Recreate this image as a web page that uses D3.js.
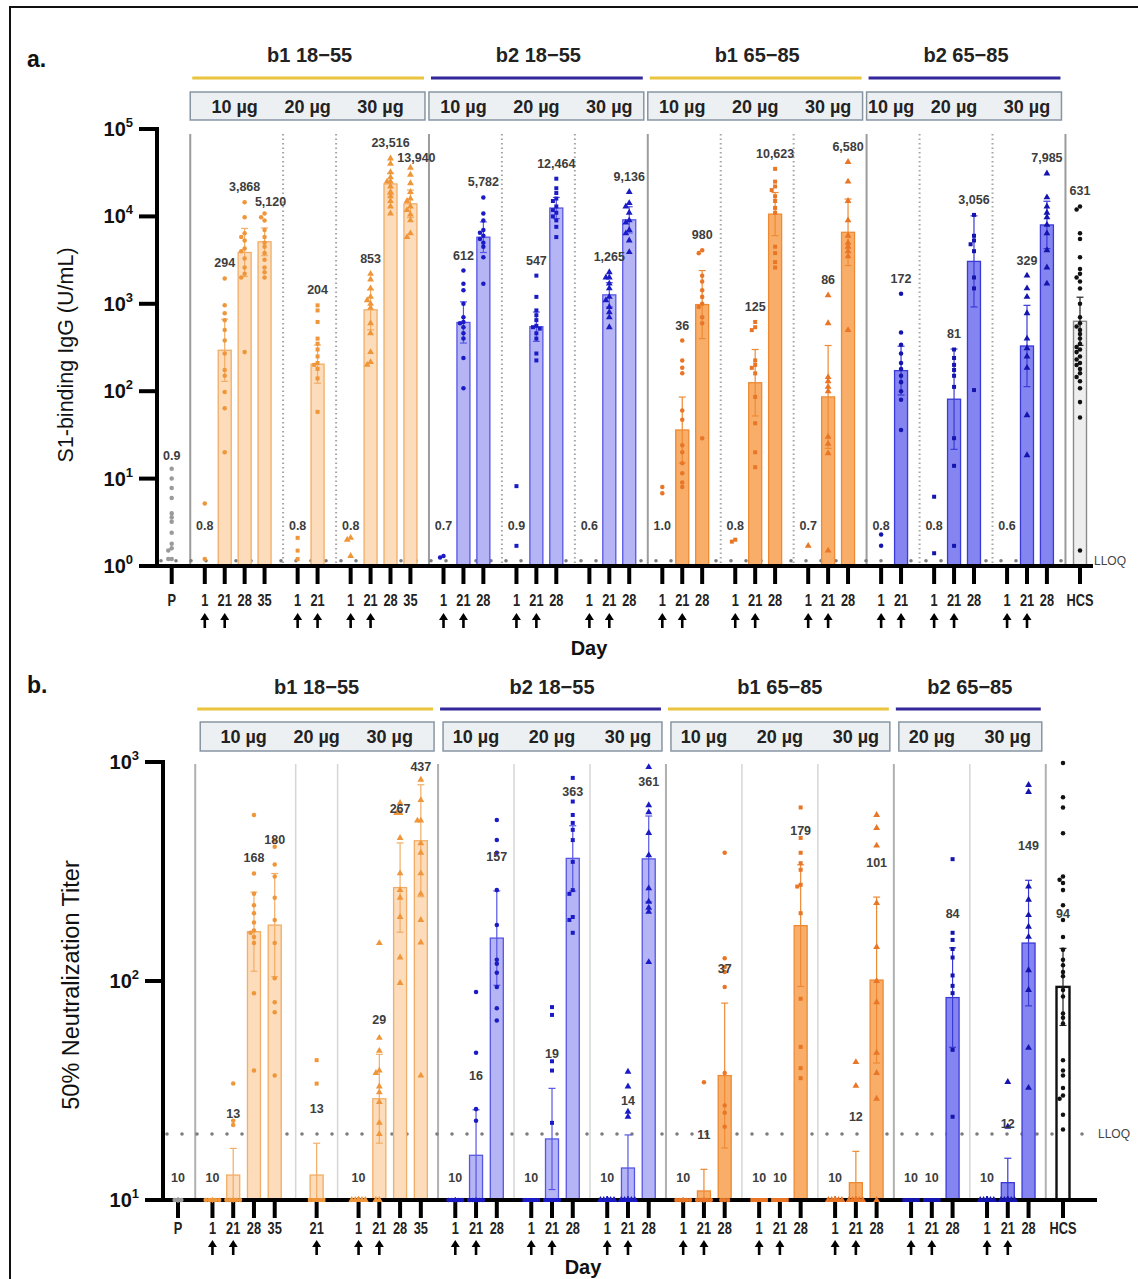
<!DOCTYPE html>
<html>
<head>
<meta charset="utf-8">
<script src="https://cdn.jsdelivr.net/npm/d3@7"></script>
<style>
  body { margin: 0; background: #fff; }
  svg { display: block; }
</style>
</head>
<body>
<script>
// ---------------- data ----------------
const cohortNames = ["b1 18−55", "b2 18−55", "b1 65−85", "b2 65−85"];
const doseLabels = ["10 µg", "20 µg", "30 µg"];

// Panel a: S1-binding IgG (U/mL); one entry per column group (P, doses per cohort, HCS)
const iggGroupCohort = [-1, 0, 0, 0, 1, 1, 1, 2, 2, 2, 3, 3, 3, -1];
const iggGroupDose   = [-1, 0, 1, 2, 0, 1, 2, 0, 1, 2, 0, 1, 2, -1];
const iggDays = [
  ["P"],
  ["1", "21", "28", "35"], ["1", "21"], ["1", "21", "28", "35"],
  ["1", "21", "28"], ["1", "21", "28"], ["1", "21", "28"],
  ["1", "21", "28"], ["1", "21", "28"], ["1", "21", "28"],
  ["1", "21"], ["1", "21", "28"], ["1", "21", "28"],
  ["HCS"]
];
const iggGMT = [
  [0.9],
  [0.8, 294, 3868, 5120], [0.8, 204], [0.8, 853, 23516, 13940],
  [0.7, 612, 5782], [0.9, 547, 12464], [0.6, 1265, 9136],
  [1.0, 36, 980], [0.8, 125, 10623], [0.7, 86, 6580],
  [0.8, 172], [0.8, 81, 3056], [0.6, 329, 7985],
  [631]
];
const iggPoints = [
  [[13, 10, 7.8, 6, 4, 3.6, 3.2, 2.4, 1.8, 1.6, 1.5, 1.2, 1.2]],
  [[5.2, 1.2],
   [1950, 960, 780, 650, 500, 380, 270, 175, 150, 98, 64, 20],
   [14500, 9800, 6400, 5800, 5300, 4300, 4000, 3300, 2600, 2200, 2000, 280],
   [10800, 9800, 9000, 7000, 5800, 5000, 4500, 3800, 3200, 2600, 2300, 2000]],
  [[2.1, 1.5, 1.2],
   [960, 840, 620, 400, 350, 300, 250, 210, 200, 180, 140, 58]],
  [[2.1, 2.0, 1.3],
   [2200, 1900, 1500, 1200, 1100, 1000, 900, 600, 460, 280, 215, 200],
   [46000, 40000, 32000, 28000, 25000, 25000, 22000, 19000, 17000, 15000, 13000, 10800],
   [36000, 30000, 24000, 19000, 16000, 15000, 13000, 11800, 10500, 9000, 6400, 5800]],
  [[1.3, 1.25],
   [2400, 1700, 1430, 1000, 700, 620, 600, 540, 460, 400, 240, 108],
   [16500, 10800, 9000, 7000, 6500, 6000, 5500, 5000, 4500, 3400, 1700]],
  [[8.2, 1.7],
   [2100, 1200, 840, 740, 650, 560, 540, 520, 460, 400, 270, 225],
   [27000, 21000, 18500, 16000, 15000, 13000, 11800, 11000, 10000, 9000, 7600, 5800]],
  [[],
   [2300, 2000, 2000, 1700, 1500, 1200, 1100, 920, 800, 700, 540],
   [19000, 14200, 13000, 11000, 9000, 8500, 7000, 6400, 5300, 3900]],
  [[8, 6.8],
   [380, 225, 185, 160, 60, 47, 24, 20, 15, 11.5, 9, 8],
   [4100, 3800, 2100, 1800, 1430, 1200, 1000, 920, 700, 600, 29]],
  [[2.0, 1.9],
   [620, 540, 500, 225, 200, 185, 160, 86, 43, 20, 13.5],
   [35000, 25000, 22000, 20000, 17000, 15000, 12500, 11000, 4500, 3800, 3000, 2600]],
  [[1.7],
   [1250, 600, 145, 130, 112, 100, 30, 25, 19.5, 1.5],
   [42000, 25000, 15000, 9000, 6000, 5000, 4500, 4000, 3500, 500]],
  [[2.3, 1.7],
   [1300, 470, 340, 270, 210, 180, 150, 127, 100, 80, 36]],
  [[6.2, 1.4],
   [300, 240, 200, 175, 150, 112, 29, 14, 1.7],
   [10400, 6000, 5300, 4800, 4000, 2000, 1500, 103]],
  [[],
   [2100, 1500, 1200, 780, 400, 310, 250, 185, 53, 18.5],
   [31000, 16500, 13000, 11000, 9800, 8000, 6400, 4100, 2600, 1700]],
  [[13000, 12000, 6400, 5500, 3400, 2500, 2200, 2000, 1800, 1500, 1000, 700, 600, 550, 500,
    450, 400, 350, 320, 300, 280, 250, 230, 210, 200, 180, 160, 145, 130, 108, 75, 50, 1.5]]
];

// Panel b: 50% neutralization titer
const ntGroupCohort = [-1, 0, 0, 0, 1, 1, 1, 2, 2, 2, 3, 3, -1];
const ntGroupDose   = [-1, 0, 1, 2, 0, 1, 2, 0, 1, 2, 1, 2, -1];
const ntDays = [
  ["P"],
  ["1", "21", "28", "35"], ["21"], ["1", "21", "28", "35"],
  ["1", "21", "28"], ["1", "21", "28"], ["1", "21", "28"],
  ["1", "21", "28"], ["1", "21", "28"], ["1", "21", "28"],
  ["1", "21", "28"], ["1", "21", "28"],
  ["HCS"]
];
const ntGMT = [
  [10],
  [10, 13, 168, 180], [13], [10, 29, 267, 437],
  [10, 16, 157], [10, 19, 363], [10, 14, 361],
  [10, 11, 37], [10, 10, 179], [10, 12, 101],
  [10, 10, 84], [10, 12, 149],
  [94]
];
const ntPoints = [
  [[10, 10, 10, 10, 10, 10, 10, 10, 10, 10, 10, 10]],
  [[10, 10, 10, 10, 10, 10, 10, 10, 10, 10, 10, 10],
   [34, 23, 22, 10, 10, 10, 10, 10, 10, 10, 10, 10],
   [573, 310, 250, 222, 204, 185, 170, 166, 159, 149, 88, 39],
   [440, 410, 340, 300, 240, 190, 149, 103, 80, 72, 37]],
  [[43.5, 34, 10, 10, 10, 10, 10, 10, 10, 10, 10, 10]],
  [[10, 10, 10, 10, 10, 10, 10, 10, 10, 10, 10, 10],
   [149, 55, 48, 39, 38, 33, 31, 28, 22.5, 20, 10, 10],
   [650, 585, 585, 450, 310, 260, 240, 196, 128, 98],
   [830, 670, 540, 540, 425, 385, 310, 250, 190, 150, 37]],
  [[10, 10, 10, 10, 10, 10, 10, 10, 10, 10, 10, 10],
   [89, 47, 26, 23, 10, 10, 10, 10, 10, 10, 10, 10],
   [543, 440, 385, 260, 180, 125, 120, 109, 94, 75, 66]],
  [[10, 10, 10, 10, 10, 10, 10, 10, 10, 10, 10, 10],
   [76, 70, 43, 39, 22.5, 10, 10, 10, 10, 10, 10, 10],
   [846, 660, 573, 527, 490, 440, 350, 260, 250, 196, 190, 166]],
  [[10, 10, 10, 10, 10, 10, 10, 10, 10, 10, 10, 10],
   [38.5, 33, 25.3, 24, 10, 10, 10, 10, 10, 10, 10, 10],
   [948, 635, 590, 474, 375, 265, 230, 216, 207, 122]],
  [[10, 10, 10, 10, 10, 10, 10, 10, 10, 10, 10, 10],
   [34.5, 10, 10, 10, 10, 10, 10, 10, 10, 10, 10, 10],
   [385, 127, 116, 110, 94, 38, 27, 25, 21.6, 10, 10, 10]],
  [[10, 10, 10, 10, 10, 10, 10, 10, 10, 10, 10, 10],
   [10, 10, 10, 10, 10, 10, 10, 10, 10, 10, 10, 10],
   [620, 450, 385, 345, 322, 275, 270, 204, 83, 50, 40, 36]],
  [[10, 10, 10, 10, 10, 10, 10, 10, 10, 10, 10, 10],
   [42.6, 33.2, 10, 10, 10, 10, 10, 10, 10, 10, 10, 10],
   [573, 500, 415, 227, 143, 100, 80, 47, 38, 29, 10]],
  [[10, 10, 10, 10, 10, 10, 10, 10, 10, 10, 10, 10],
   [10, 10, 10, 10, 10, 10, 10, 10, 10, 10, 10, 10],
   [360, 166, 154, 140, 128, 106, 95, 88, 48.5, 24]],
  [[10, 10, 10, 10, 10, 10, 10, 10, 10, 10, 10, 10],
   [34.6, 21.6, 10, 10, 10, 10, 10, 10, 10, 10, 10, 10],
   [785, 730, 270, 235, 200, 177, 159, 112, 91, 49.5, 32.5]],
  [[990, 690, 620, 473, 300, 290, 280, 260, 222, 190, 159, 139, 125, 118, 110, 105, 91, 85,
    71, 68, 64, 43.5, 39, 37, 32.5, 30, 29, 24.5, 21]]
];

// ---------------- styling ----------------
const FONT = '"Liberation Sans", Arial, Helvetica, sans-serif';
const cohortStyle = [
  { fill: "#fcdcba", stroke: "#f2ad66", point: "#f0963a", rule: "#e9c43c" },
  { fill: "#b5b5f6", stroke: "#5656e4", point: "#1b1bc6", rule: "#33279a" },
  { fill: "#f8ae69", stroke: "#ee8a34", point: "#e97626", rule: "#e9c43c" },
  { fill: "#8585f1", stroke: "#3a3ad6", point: "#1414ae", rule: "#33279a" }
];
const markerType = [d3.symbolCircle, d3.symbolSquare, d3.symbolTriangle];

const svg = d3.select("body").append("svg")
  .attr("width", 1138).attr("height", 1279)
  .style("font-family", FONT);

// figure frame
svg.append("rect")
  .attr("x", 10).attr("y", 7).attr("width", 1150).attr("height", 1320)
  .attr("fill", "none").attr("stroke", "#111").attr("stroke-width", 2);

const tCrit = [0, 12.71, 4.30, 3.18, 2.78, 2.57, 2.45, 2.36, 2.31, 2.26, 2.23, 2.20, 2.18, 2.16, 2.14, 2.13];
function confInterval(vals, center) {
  const n = vals.length;
  if (n < 3) return null;
  const L = vals.map(v => Math.log10(v));
  const sd = d3.deviation(L);
  if (!sd) return null;
  const t = n - 1 < tCrit.length ? tCrit[n - 1] : 2.05;
  const h = t * sd / Math.sqrt(n);
  return [center / Math.pow(10, h), center * Math.pow(10, h)];
}

function swarm(vals, y, maxOff) {
  const lo = y.domain()[0];
  const pts = vals.filter(v => v >= lo * 0.999)
    .map(v => ({ v, py: y(v) }))
    .sort((a, b) => a.py - b.py);
  const offs = [0, -3.4, 3.4, -6.8, 6.8, -10.2, 10.2].filter(o => Math.abs(o) <= maxOff);
  const placed = [];
  pts.forEach(p => {
    p.ox = 0;
    for (const o of offs) {
      if (!placed.some(q => Math.abs(q.py - p.py) < 3.8 && Math.abs(q.ox - o) < 3.3)) { p.ox = o; break; }
    }
    placed.push(p);
  });
  return placed;
}

function narrowText(sel, x, y, txt, size, sx) {
  return sel.append("text")
    .attr("transform", `translate(${x},${y}) scale(${sx},1)`)
    .attr("text-anchor", "middle")
    .attr("font-size", size).attr("font-weight", "bold")
    .text(txt);
}

function drawPanel(P) {
  const g = svg.append("g");
  const gBack = g.append("g"), gMarks = g.append("g"), gAxis = g.append("g"), gTop = g.append("g");
  const y = d3.scaleLog().domain(P.yDomain).range([P.yBase, P.yTop]);
  const yMin = P.yDomain[0];

  // column layout: unit steps inside a group, wider gaps between groups
  const cols = [], groups = [];
  let u = 0;
  P.days.forEach((days, gi) => {
    if (gi > 0) u += 1 + P.extraGap(gi);
    const first = u;
    days.forEach((d, di) => {
      if (di > 0) u += 1;
      cols.push({
        gi, di, day: d, u,
        value: P.gmt[gi][di], pts: P.points[gi][di],
        cohort: P.cohort[gi], dose: P.dose[gi]
      });
    });
    groups.push({ gi, first, last: u, cohort: P.cohort[gi], dose: P.dose[gi], days });
  });
  const x = d3.scaleLinear().domain([0, u]).range([P.xFirst, P.xLast]);

  // group separators
  const seps = [null];
  for (let gi = 1; gi < groups.length; gi++) {
    const a = groups[gi - 1], b = groups[gi];
    const sx = (x(a.last) + x(b.first)) / 2 + P.sepShift;
    const major = a.cohort !== b.cohort || a.cohort < 0;
    seps.push(sx);
    const ln = gBack.append("line")
      .attr("x1", sx).attr("x2", sx).attr("y1", P.sepTop).attr("y2", P.yBase);
    if (major) ln.attr("stroke", P.majorSep).attr("stroke-width", 2);
    else ln.attr("stroke", P.minorSep).attr("stroke-width", P.minorWidth)
      .attr("stroke-dasharray", P.minorDash);
  }

  // cohort headers: title, coloured rule, dose box
  cohortNames.forEach((name, ci) => {
    const gis = groups.filter(gr => gr.cohort === ci).map(gr => gr.gi);
    const sL = seps[gis[0]], sR = seps[gis[gis.length - 1] + 1];
    const cx = (sL + sR) / 2;
    gBack.append("text").attr("x", cx).attr("y", P.titleY)
      .attr("text-anchor", "middle").attr("font-size", 20).attr("font-weight", "bold")
      .attr("fill", "#222").text(name);
    gBack.append("line").attr("x1", sL + 2).attr("x2", sR - 5)
      .attr("y1", P.ruleY).attr("y2", P.ruleY)
      .attr("stroke", cohortStyle[ci].rule).attr("stroke-width", 3);
    gBack.append("rect").attr("x", sL + P.boxInset).attr("y", P.boxY)
      .attr("width", sR - sL - P.boxInset - 4).attr("height", P.boxH)
      .attr("fill", "#edf0f3").attr("stroke", "#8795a3").attr("stroke-width", 1.5);
    gis.forEach(gi => {
      const gr = groups[gi];
      gBack.append("text").attr("x", (x(gr.first) + x(gr.last)) / 2).attr("y", P.doseY)
        .attr("text-anchor", "middle").attr("font-size", 18).attr("font-weight", "bold")
        .attr("fill", "#222").text(doseLabels[gr.dose]);
    });
  });

  // LLOQ reference line
  gBack.append("line").attr("x1", P.axisX + 4).attr("x2", P.lloqEnd)
    .attr("y1", y(P.lloq)).attr("y2", y(P.lloq))
    .attr("stroke", "#7d7d7d").attr("stroke-width", 3.6)
    .attr("stroke-linecap", "round").attr("stroke-dasharray", "0 15");
  gBack.append("text").attr("x", P.lloqEnd + 6).attr("y", y(P.lloq) + 4)
    .attr("font-size", 12).attr("fill", "#444").text("LLOQ");

  // bars, error bars, points, value labels
  const labels = [];
  cols.forEach(c => {
    const cx = x(c.u);
    const isRef = c.cohort < 0;
    const isHCS = c.day === "HCS";
    const st = isRef ? null : cohortStyle[c.cohort];
    const fill = isHCS ? P.hcsFill : (isRef ? "#ddd" : st.fill);
    const stroke = isHCS ? P.hcsStroke : (isRef ? "#999" : st.stroke);
    const ptCol = isHCS ? "#111" : (c.day === "P" ? "#9a9a9a" : st.point);
    const hasBar = c.value > yMin * 1.0001;
    const bw = P.barW;

    if (hasBar) {
      gMarks.append("rect").attr("x", cx - bw / 2).attr("y", y(c.value))
        .attr("width", bw).attr("height", P.yBase - y(c.value))
        .attr("fill", fill).attr("stroke", stroke)
        .attr("stroke-width", isHCS ? P.hcsWidth : 1.3);
    }
    let civ = null;
    if (hasBar) {
      civ = confInterval(c.pts.filter(v => v >= yMin), c.value);
      if (civ) {
        const yHi = y(Math.min(civ[1], P.yDomain[1]));
        const loV = Math.max(civ[0], yMin), yLo = y(loV);
        const ec = isHCS ? "#222" : stroke;
        gMarks.append("line").attr("x1", cx).attr("x2", cx).attr("y1", yHi).attr("y2", yLo)
          .attr("stroke", ec).attr("stroke-width", 1.2);
        gMarks.append("line").attr("x1", cx - 3.5).attr("x2", cx + 3.5).attr("y1", yHi).attr("y2", yHi)
          .attr("stroke", ec).attr("stroke-width", 1.2);
        if (civ[0] > yMin) gMarks.append("line").attr("x1", cx - 3.5).attr("x2", cx + 3.5)
          .attr("y1", yLo).attr("y2", yLo).attr("stroke", ec).attr("stroke-width", 1.2);
      }
    }
    const sym = d3.symbol()
      .type(c.dose >= 0 ? markerType[c.dose] : d3.symbolCircle)
      .size(c.dose === 2 ? 20 : 16);
    const placed = swarm(c.pts, y, isRef ? 5 : 6.8);
    placed.forEach(p => {
      // points sitting on the baseline are drawn over the axis line
      const layer = p.py >= P.yBase - 1 ? gTop : gMarks;
      layer.append("path").attr("d", sym())
        .attr("transform", `translate(${cx + p.ox},${p.py})`)
        .attr("fill", ptCol);
    });

    // value label
    let ly;
    if (!hasBar) {
      ly = isRef && placed.length && placed[0].py < P.yBase - 20
        ? placed[0].py - 9 : P.yBase - P.lowLabelOff;
    } else if (P.labelMode === "points") {
      ly = Math.min(placed.length ? placed[0].py : y(c.value), y(c.value)) - 11;
    } else {
      ly = (civ ? y(Math.min(civ[1], P.yDomain[1])) : y(c.value)) - P.ciLabelOff;
    }
    ly = Math.max(ly, P.yTop + P.labelTopGap);
    const fmt = c.value < 10 ? d3.format(".1f") : d3.format(",");
    const txt = fmt(c.value);
    let lx = cx;
    const w = txt.length * 7;
    const prev = labels[labels.length - 1];
    if (prev && Math.abs(ly - prev.y) < 13 && Math.abs(lx - prev.x) < (w + prev.w) / 2) {
      ly = prev.y + 15;
      lx += 6;
    }
    labels.push({ x: lx, y: ly, w });
    gTop.append("text").attr("x", lx).attr("y", ly)
      .attr("text-anchor", "middle").attr("font-size", 12.5).attr("font-weight", "bold")
      .attr("fill", "#3d3d3d").text(txt);
  });

  // y axis
  gAxis.append("line").attr("x1", P.axisX).attr("x2", P.axisX)
    .attr("y1", P.yTop - 2).attr("y2", P.yBase + 2)
    .attr("stroke", "#000").attr("stroke-width", 4);
  const e0 = Math.round(Math.log10(P.yDomain[0])), e1 = Math.round(Math.log10(P.yDomain[1]));
  d3.range(e0, e1 + 1).forEach(e => {
    const ty = y(Math.pow(10, e));
    gAxis.append("line").attr("x1", P.axisX - 18).attr("x2", P.axisX)
      .attr("y1", ty).attr("y2", ty).attr("stroke", "#000").attr("stroke-width", 4);
    const t = gAxis.append("text").attr("x", P.axisX - 24).attr("y", ty + 7)
      .attr("text-anchor", "end").attr("font-size", 20).attr("font-weight", "bold")
      .attr("fill", "#111");
    t.append("tspan").text("10");
    t.append("tspan").attr("dy", -9).attr("font-size", 13).text(e);
  });
  gAxis.append("text")
    .attr("transform", `translate(${P.yTitleX},${P.yTitleY}) rotate(-90)`)
    .attr("text-anchor", "middle").attr("font-size", P.yTitleSize).attr("fill", "#111")
    .text(P.yTitle);

  // x axis with day ticks and dosing arrows
  gAxis.append("line").attr("x1", P.axisX - 2).attr("x2", P.axisEnd)
    .attr("y1", P.yBase).attr("y2", P.yBase)
    .attr("stroke", "#000").attr("stroke-width", 4);
  cols.forEach(c => {
    const cx = x(c.u);
    gAxis.append("line").attr("x1", cx).attr("x2", cx)
      .attr("y1", P.yBase).attr("y2", P.yBase + 18)
      .attr("stroke", "#000").attr("stroke-width", 4);
    narrowText(gAxis, cx, P.tickLabelY, c.day, 16, 0.8).attr("fill", "#222");
    if (c.day === "1" || c.day === "21") {
      const ay = P.arrowY;
      gAxis.append("line").attr("x1", cx).attr("x2", cx).attr("y1", ay + 5).attr("y2", ay + 15)
        .attr("stroke", "#000").attr("stroke-width", 2.6);
      gAxis.append("path").attr("d", `M${cx - 4.5},${ay + 7} L${cx},${ay} L${cx + 4.5},${ay + 7} Z`)
        .attr("fill", "#000");
    }
  });
  gAxis.append("text").attr("x", P.dayX).attr("y", P.dayY)
    .attr("text-anchor", "middle").attr("font-size", 20).attr("font-weight", "bold")
    .attr("fill", "#111").text("Day");

  gAxis.append("text").attr("x", 27).attr("y", P.panelLabelY)
    .attr("font-size", 23).attr("font-weight", "bold").attr("fill", "#111")
    .text(P.panelLabel);
}

// Panel a
drawPanel({
  days: iggDays, gmt: iggGMT, points: iggPoints, cohort: iggGroupCohort, dose: iggGroupDose,
  yDomain: [1, 1e5], yBase: 566, yTop: 129,
  xFirst: 171.7, xLast: 1080, extraGap: () => 0.66, sepShift: 2,
  axisX: 157, axisEnd: 1093, lloq: 1.15, lloqEnd: 1088,
  sepTop: 134, majorSep: "#9c9c9c", minorSep: "#a5a5a5", minorWidth: 2, minorDash: "1.5 3",
  titleY: 62, ruleY: 78, boxY: 92, boxH: 28, boxInset: 0, doseY: 113,
  barW: 13, hcsFill: "#eeeeee", hcsStroke: "#8a8a8a", hcsWidth: 1.4,
  labelMode: "points", lowLabelOff: 36, ciLabelOff: 13, labelTopGap: 6,
  tickLabelY: 606, arrowY: 613, dayX: 589, dayY: 655,
  yTitle: "S1-binding IgG (U/mL)", yTitleX: 73, yTitleY: 355, yTitleSize: 21.5,
  panelLabel: "a.", panelLabelY: 67
});

// Panel b
const ntExtraGap = gi => {
  const lone = k => ntDays[k].length === 1 && ntGroupCohort[k] >= 0;
  return lone(gi) || lone(gi - 1) ? 1.02 : 0.66;
};
drawPanel({
  days: ntDays, gmt: ntGMT, points: ntPoints, cohort: ntGroupCohort, dose: ntGroupDose,
  yDomain: [10, 1000], yBase: 1200, yTop: 762,
  xFirst: 178, xLast: 1063, extraGap: ntExtraGap, sepShift: 0,
  axisX: 163, axisEnd: 1097, lloq: 20, lloqEnd: 1092,
  sepTop: 764, majorSep: "#b0b0b0", minorSep: "#d6d6d6", minorWidth: 1.5, minorDash: null,
  titleY: 694, ruleY: 709, boxY: 722, boxH: 29, boxInset: 5, doseY: 743,
  barW: 13, hcsFill: "#ffffff", hcsStroke: "#111", hcsWidth: 2.4,
  labelMode: "ci", lowLabelOff: 18, ciLabelOff: 30, labelTopGap: 9,
  tickLabelY: 1234, arrowY: 1240, dayX: 583, dayY: 1274,
  yTitle: "50% Neutralization Titer", yTitleX: 79, yTitleY: 985, yTitleSize: 23.5,
  panelLabel: "b.", panelLabelY: 693
});
</script>
</body>
</html>
